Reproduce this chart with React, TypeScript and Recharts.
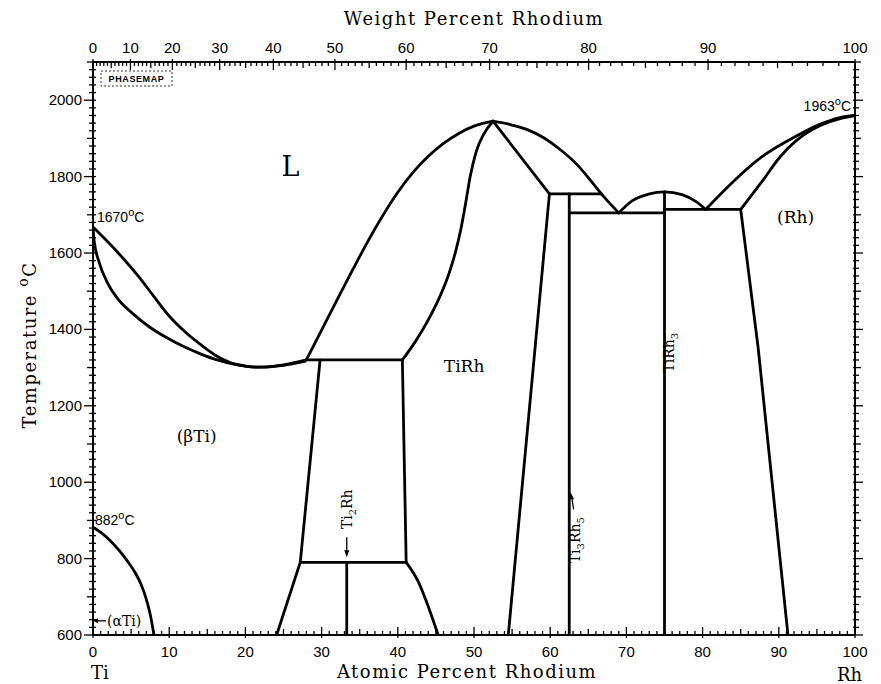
import React from 'react';
import { LineChart, Line, XAxis, YAxis, ReferenceDot } from 'recharts';

// ---------- axis tick data ----------
const AT_TICKS = Array.from({ length: 101 }, (_, i) => i); // atomic % Rh
const WT_VALUES = Array.from({ length: 101 }, (_, i) => i); // weight % Rh (top axis)
const T_TICKS = Array.from({ length: 76 }, (_, i) => 600 + 20 * i);
const T_LABELS = [600, 800, 1000, 1200, 1400, 1600, 1800, 2000];
const AT_LABELS = [0, 10, 20, 30, 40, 50, 60, 70, 80, 90, 100];
const WT_LABELS = [0, 10, 20, 30, 40, 50, 60, 70, 80, 90, 100];

// weight % -> atomic % (Ti = 47.867, Rh = 102.906)
const M_TI = 47.867;
const M_RH = 102.906;
const wtToAt = (w: number) => {
  if (w <= 0) return 0;
  if (w >= 100) return 100;
  const r = w / M_RH;
  const t = (100 - w) / M_TI;
  return (100 * r) / (r + t);
};
const WT_POS = WT_VALUES.map(wtToAt);

// ---------- phase boundaries (atomic % Rh, temperature °C) ----------
const tiLiqAt = [0, 2, 4, 6, 8, 10, 12, 14, 16, 18, 20, 22, 25, 28];
const tiLiqT = [1668, 1628, 1585, 1538, 1486, 1435, 1395, 1362, 1333, 1313, 1304, 1301, 1307, 1320];
const tiSolAt = [0, 0.15, 0.8, 2.0, 3.1, 5.3, 7.5, 9.7, 11.9, 14.1, 16.3, 18.5, 21.5, 25, 27.8];
const tiSolT = [1668, 1632, 1576, 1518, 1484, 1440, 1405, 1378, 1355, 1336, 1320, 1309, 1301, 1306, 1316];
const aTiAt = [0, 1.2, 2.3, 3.4, 4.5, 5.6, 6.3, 6.9, 7.5, 8.0];
const aTiT = [882, 866, 846, 822, 794, 761, 733, 700, 655, 600];

const peri1320At = [28, 40.6];
const peri1320T = [1320, 1320];
const betaBoundAt = [29.8, 27.2, 24.1];
const betaBoundT = [1320, 790, 600];
const eut790At = [27.2, 41.1];
const eut790T = [790, 790];
const ti2RhAt = [33.3, 33.3];
const ti2RhT = [790, 600];
const tiRhLeftUpAt = [40.6, 41.1];
const tiRhLeftUpT = [1320, 790];
const tiRhLeftLowAt = [41.1, 42.7, 44.1, 45.3];
const tiRhLeftLowT = [790, 739, 669, 600];

const tiRhLiqLAt = [28, 30, 32, 34, 36, 38, 40, 42, 44, 46, 48, 50, 52.5];
const tiRhLiqLT = [1320, 1398, 1476, 1553, 1628, 1697, 1759, 1811, 1853, 1887, 1913, 1932, 1945];
const tiRhSolLAt = [40.6, 42.3, 44, 45.5, 46.7, 47.6, 48.3, 48.9, 49.5, 50.3, 51.3, 52.5];
const tiRhSolLT = [1320, 1368, 1425, 1485, 1545, 1605, 1665, 1730, 1800, 1866, 1912, 1945];
const tiRhLiqRAt = [52.5, 54.8, 57.0, 59.2, 61.3, 63.5, 65.5, 67.0, 69.0];
const tiRhLiqRT = [1945, 1936, 1923, 1901, 1871, 1832, 1785, 1748, 1705];
const tiRhSolRAt = [52.5, 59.9];
const tiRhSolRT = [1945, 1755];
const peri1755At = [59.9, 66.7];
const peri1755T = [1755, 1755];
const tiRhSolvusAt = [59.9, 54.5];
const tiRhSolvusT = [1755, 600];
const ti3Rh5At = [62.5, 62.5];
const ti3Rh5T = [1755, 600];
const eut1705At = [62.5, 75];
const eut1705T = [1705, 1705];
const tiRh3DomeAt = [69, 70.7, 72.9, 75, 77.3, 79.1, 80.4];
const tiRh3DomeT = [1705, 1736, 1754, 1760, 1753, 1735, 1714];
const tiRh3At = [75, 75];
const tiRh3T = [1760, 600];
const eut1714At = [75, 85];
const eut1714T = [1714, 1714];
const tiRh3RightAt = [85, 87.3, 91.2];
const tiRh3RightT = [1714, 1350, 600];
const rhLiqAt = [80.4, 83.4, 87.8, 92.2, 95.3, 97.9, 100];
const rhLiqT = [1714, 1775, 1852, 1905, 1936, 1954, 1960];
const rhSolAt = [85, 87.9, 90.1, 92.2, 94.4, 96.6, 98.3, 100];
const rhSolT = [1714, 1790, 1850, 1893, 1923, 1943, 1953, 1960];

const pts = (xs: number[], ts: number[]) => xs.map((x, i) => ({ x, y: ts[i] }));

const SEGMENTS: { d: { x: number; y: number }[]; curve: boolean }[] = [
  { d: pts(tiLiqAt, tiLiqT), curve: true },
  { d: pts(tiSolAt, tiSolT), curve: true },
  { d: pts(aTiAt, aTiT), curve: true },
  { d: pts(peri1320At, peri1320T), curve: false },
  { d: pts(betaBoundAt, betaBoundT), curve: false },
  { d: pts(eut790At, eut790T), curve: false },
  { d: pts(ti2RhAt, ti2RhT), curve: false },
  { d: pts(tiRhLeftUpAt, tiRhLeftUpT), curve: false },
  { d: pts(tiRhLeftLowAt, tiRhLeftLowT), curve: true },
  { d: pts(tiRhLiqLAt, tiRhLiqLT), curve: true },
  { d: pts(tiRhSolLAt, tiRhSolLT), curve: true },
  { d: pts(tiRhLiqRAt, tiRhLiqRT), curve: true },
  { d: pts(tiRhSolRAt, tiRhSolRT), curve: false },
  { d: pts(peri1755At, peri1755T), curve: false },
  { d: pts(tiRhSolvusAt, tiRhSolvusT), curve: false },
  { d: pts(ti3Rh5At, ti3Rh5T), curve: false },
  { d: pts(eut1705At, eut1705T), curve: false },
  { d: pts(tiRh3DomeAt, tiRh3DomeT), curve: true },
  { d: pts(tiRh3At, tiRh3T), curve: false },
  { d: pts(eut1714At, eut1714T), curve: false },
  { d: pts(tiRh3RightAt, tiRh3RightT), curve: false },
  { d: pts(rhLiqAt, rhLiqT), curve: true },
  { d: pts(rhSolAt, rhSolT), curve: true },
];

// region labels (atomic %, °C)
const REGION_LABELS = [
  { text: 'L', x: 25.9, t: 1827, size: 27 },
  { text: 'TiRh', x: 48.7, t: 1303, size: 17 },
  { text: '(\u03B2Ti)', x: 13.6, t: 1122, size: 17 },
  { text: '(Rh)', x: 92.2, t: 1694, size: 17 },
];

const SERIF = '"DejaVu Serif", "Liberation Serif", serif';
const SANS = '"Liberation Sans", Arial, sans-serif';

const W = 881;
const H = 684;

// ---------- ticks ----------
const BottomTick = (p: any) => {
  const { x, y, payload } = p;
  const v = Math.round(payload.value);
  const major = v % 10 === 0;
  const mid = v % 5 === 0;
  const len = major ? 8 : mid ? 6 : 4;
  return (
    <g>
      <line x1={x} x2={x} y1={y - len} y2={y + (major ? 3 : 0)} stroke="#000" strokeWidth={1.3} />
      {major && AT_LABELS.includes(v) && (
        <text x={x} y={y + 22} textAnchor="middle" fontFamily={SANS} fontSize={15} fill="#000">
          {v}
        </text>
      )}
    </g>
  );
};

const TopTick = (p: any) => {
  const { x, y, payload } = p;
  let idx = 0;
  let best = 1e9;
  WT_POS.forEach((pos, i) => {
    const d = Math.abs(pos - payload.value);
    if (d < best) {
      best = d;
      idx = i;
    }
  });
  const w = WT_VALUES[idx];
  const major = w % 10 === 0;
  const mid = w % 5 === 0;
  const len = major ? 8 : mid ? 6 : 4;
  return (
    <g>
      <line x1={x} x2={x} y1={y - (major ? 3 : 0)} y2={y + len} stroke="#000" strokeWidth={1.3} />
      {major && WT_LABELS.includes(w) && (
        <text x={x} y={y - 9} textAnchor="middle" fontFamily={SANS} fontSize={15} fill="#000">
          {w}
        </text>
      )}
    </g>
  );
};

const LeftTick = (p: any) => {
  const { x, y, payload } = p;
  const v = Math.round(payload.value);
  const major = v % 200 === 0;
  const mid = v % 100 === 0;
  const len = major ? 9 : mid ? 6 : 4;
  return (
    <g>
      <line x1={x - len} x2={x + 3} y1={y} y2={y} stroke="#000" strokeWidth={1.3} />
      {major && T_LABELS.includes(v) && (
        <text x={x - 11} y={y + 5} textAnchor="end" fontFamily={SANS} fontSize={15} fill="#000">
          {v}
        </text>
      )}
    </g>
  );
};

const RightTick = (p: any) => {
  const { x, y, payload } = p;
  const v = Math.round(payload.value);
  const major = v % 200 === 0;
  const mid = v % 100 === 0;
  const len = major ? 8 : mid ? 6 : 4;
  return <line x1={x - 2} x2={x + len} y1={y} y2={y} stroke="#000" strokeWidth={1.3} />;
};

// ---------- labels ----------
const center = (vb: any) => ({ cx: vb.x + (vb.width || 0) / 2, cy: vb.y + (vb.height || 0) / 2 });

const regionLabel = (text: string, size: number) => (props: any) => {
  const { cx, cy } = center(props.viewBox);
  return (
    <text x={cx} y={cy} textAnchor="middle" dominantBaseline="central" fontFamily={SERIF} fontSize={size} fill="#000">
      {text}
    </text>
  );
};

const degLabel = (num: string, anchor: 'start' | 'end', dx: number, dy: number) => (props: any) => {
  const { cx, cy } = center(props.viewBox);
  return (
    <text x={cx + dx} y={cy + dy} textAnchor={anchor} fontFamily={SANS} fontSize={14} fill="#000">
      {num}
      <tspan dy={-6} fontSize={11}>o</tspan>
      <tspan dy={6}>C</tspan>
    </text>
  );
};

const alphaLabel = (props: any) => {
  const { cx, cy } = center(props.viewBox);
  return (
    <g>
      <line x1={cx + 2} x2={cx + 13} y1={cy} y2={cy} stroke="#000" strokeWidth={1.3} />
      <polygon points={`${cx},${cy} ${cx + 5},${cy - 2.5} ${cx + 5},${cy + 2.5}`} fill="#000" />
      <text x={cx + 14} y={cy + 5} fontFamily={SERIF} fontSize={14} fill="#000">
        ({'\u03B1'}Ti)
      </text>
    </g>
  );
};

const ti2RhLabel = (props: any) => {
  const { cx, cy } = center(props.viewBox);
  return (
    <g>
      <text transform={`translate(${cx + 5},${cy}) rotate(-90)`} textAnchor="middle" fontFamily={SERIF} fontSize={14} fill="#000">
        Ti<tspan dy={4} fontSize={10}>2</tspan>
        <tspan dy={-4}>Rh</tspan>
      </text>
      <line x1={cx} x2={cx} y1={cy + 28} y2={cy + 44} stroke="#000" strokeWidth={1.3} />
      <polygon points={`${cx},${cy + 48} ${cx - 2.5},${cy + 41} ${cx + 2.5},${cy + 41}`} fill="#000" />
    </g>
  );
};

const ti3Rh5Label = (props: any) => {
  const { cx, cy } = center(props.viewBox);
  return (
    <g>
      <text transform={`translate(${cx + 5},${cy}) rotate(-90)`} textAnchor="middle" fontFamily={SERIF} fontSize={14} fill="#000">
        Ti<tspan dy={4} fontSize={10}>3</tspan>
        <tspan dy={-4}>Rh</tspan>
        <tspan dy={4} fontSize={10}>5</tspan>
      </text>
      <line x1={cx - 1} x2={cx - 3} y1={cy - 31} y2={cy - 44} stroke="#000" strokeWidth={1.3} />
      <polygon points={`${cx - 4},${cy - 48} ${cx - 5.5},${cy - 41} ${cx - 0.5},${cy - 41}`} fill="#000" />
    </g>
  );
};

const tiRh3Label = (props: any) => {
  const { cx, cy } = center(props.viewBox);
  return (
    <text transform={`translate(${cx + 5},${cy}) rotate(-90)`} textAnchor="middle" fontFamily={SERIF} fontSize={14} fill="#000">
      TiRh<tspan dy={4} fontSize={10}>3</tspan>
    </text>
  );
};

const refProps = { xAxisId: 'b', yAxisId: 'l', r: 0.5, fill: 'none', stroke: 'none', ifOverflow: 'visible' as const };

export default function App() {
  return (
    <div style={{ position: 'absolute', left: 0, top: 0, width: W, height: H, background: '#fff' }}>
      <LineChart width={W} height={H} margin={{ top: 22, right: 6, bottom: 9, left: 13 }}>
        <XAxis
          xAxisId="b"
          type="number"
          dataKey="x"
          domain={[0, 100]}
          allowDataOverflow
          ticks={AT_TICKS}
          interval={0}
          tick={<BottomTick />}
          tickLine={false}
          tickSize={0}
          tickMargin={0}
          height={40}
          axisLine={{ stroke: '#000', strokeWidth: 2 }}
        />
        <XAxis
          xAxisId="t"
          orientation="top"
          type="number"
          dataKey="x"
          domain={[0, 100]}
          allowDataOverflow
          ticks={WT_POS}
          interval={0}
          tick={<TopTick />}
          tickLine={false}
          tickSize={0}
          tickMargin={0}
          height={40}
          axisLine={{ stroke: '#000', strokeWidth: 2 }}
        />
        <YAxis
          yAxisId="l"
          type="number"
          domain={[600, 2100]}
          allowDataOverflow
          ticks={T_TICKS}
          interval={0}
          tick={<LeftTick />}
          tickLine={false}
          tickSize={0}
          tickMargin={0}
          width={80}
          axisLine={{ stroke: '#000', strokeWidth: 2 }}
        />
        <YAxis
          yAxisId="r"
          orientation="right"
          type="number"
          domain={[600, 2100]}
          allowDataOverflow
          ticks={T_TICKS}
          interval={0}
          tick={<RightTick />}
          tickLine={false}
          tickSize={0}
          tickMargin={0}
          width={20}
          axisLine={{ stroke: '#000', strokeWidth: 2 }}
        />
        {SEGMENTS.map((s, i) => (
          <Line
            key={i}
            xAxisId="b"
            yAxisId="l"
            data={s.d}
            dataKey="y"
            type={s.curve ? 'monotone' : 'linear'}
            stroke="#000"
            strokeWidth={2.8}
            strokeLinecap="round"
            strokeLinejoin="round"
            dot={false}
            activeDot={false}
            isAnimationActive={false}
          />
        ))}
        {REGION_LABELS.map((l, i) => (
          <ReferenceDot key={'r' + i} {...refProps} x={l.x} y={l.t} label={regionLabel(l.text, l.size)} />
        ))}
        <ReferenceDot {...refProps} x={0} y={1668} label={degLabel('1670', 'start', 4, -5)} />
        <ReferenceDot {...refProps} x={0} y={882} label={degLabel('882', 'start', 2, -2)} />
        <ReferenceDot {...refProps} x={100} y={1960} label={degLabel('1963', 'end', -4, -4)} />
        <ReferenceDot {...refProps} x={0} y={637} label={alphaLabel} />
        <ReferenceDot {...refProps} x={33.3} y={929} label={ti2RhLabel} />
        <ReferenceDot {...refProps} x={63.2} y={848} label={ti3Rh5Label} />
        <ReferenceDot {...refProps} x={75.6} y={1339} label={tiRh3Label} />
      </LineChart>
      <svg width={W} height={H} style={{ position: 'absolute', left: 0, top: 0, pointerEvents: 'none' }}>
        <text x={474} y={25} textAnchor="middle" fontFamily={SERIF} fontSize={18} letterSpacing={1.5} fill="#000">
          Weight Percent Rhodium
        </text>
        <text x={467} y={678} textAnchor="middle" fontFamily={SERIF} fontSize={18} letterSpacing={1.5} fill="#000">
          Atomic Percent Rhodium
        </text>
        <text x={91} y={679} fontFamily={SERIF} fontSize={18} fill="#000">
          Ti
        </text>
        <text x={837} y={681} fontFamily={SERIF} fontSize={18} fill="#000">
          Rh
        </text>
        <text transform="translate(36,345) rotate(-90)" textAnchor="middle" fontFamily={SERIF} fontSize={18} letterSpacing={1.5} fill="#000">
          Temperature <tspan dy={-8} fontSize={14}>o</tspan>
          <tspan dy={8}>C</tspan>
        </text>
        <rect x={101} y={71} width={71} height={15} fill="none" stroke="#000" strokeWidth={0.8} strokeDasharray="2 2" />
        <text x={136.5} y={82} textAnchor="middle" fontFamily={SANS} fontSize={9} fontWeight="bold" letterSpacing={0.6} fill="#000">
          PHASEMAP
        </text>
      </svg>
    </div>
  );
}
